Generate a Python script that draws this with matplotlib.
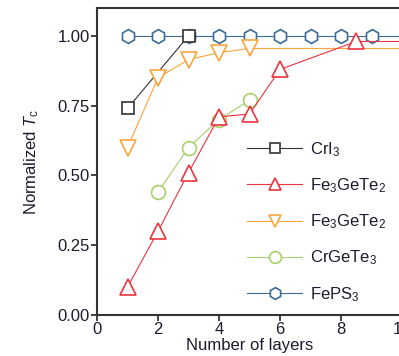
import numpy as np
import matplotlib
matplotlib.use("Agg")
import matplotlib.pyplot as plt

plt.rcParams['font.family'] = ['Liberation Sans', 'DejaVu Sans']
plt.rcParams['mathtext.fontset'] = 'custom'
plt.rcParams['mathtext.rm'] = 'Liberation Sans'
plt.rcParams['mathtext.it'] = 'Liberation Sans:italic'

# data (points beyond x=10 only carry the line to the edge)
cri3_x = [1, 3]
cri3_y = [0.74, 1.0]

fgt_red_x = [1, 2, 3, 4, 5, 6, 8.5, 12]
fgt_red_y = [0.10, 0.30, 0.51, 0.71, 0.72, 0.88, 0.98, 0.98]

fgt_orange_x = [1, 2, 3, 4, 5, 12]
fgt_orange_y = [0.60, 0.85, 0.915, 0.94, 0.955, 0.955]

cgt_x = [2, 3, 4, 5]
cgt_y = [0.44, 0.60, 0.70, 0.77]

feps3_x = [1, 2, 3, 4, 5, 6, 7, 8, 9, 12]
feps3_y = [1.0, 1.0, 1.0, 1.0, 1.0, 1.0, 1.0, 1.0, 1.0, 1.0]

xticks = [0, 2, 4, 6, 8, 10]
yticks = [0.0, 0.25, 0.5, 0.75, 1.0]

fig = plt.figure(figsize=(3.99, 3.56), dpi=100)
ax = fig.add_axes([97/399, 1-315/356, 305/399, 307/356])

txt = '#1c1c2c'
lw = 0.8
ax.plot(feps3_x, feps3_y, '-h', color='#3b6d98', mfc='white', ms=10, mew=1.2, lw=lw, label='FePS$_3$', zorder=2)
ax.plot(cri3_x, cri3_y, '-s', color='#333333', mfc='white', ms=9, mew=1.2, lw=lw, label='CrI$_3$', zorder=3)
ax.plot(fgt_orange_x, fgt_orange_y, '-v', color='#fba43c', mfc='white', ms=11, mew=1.2, lw=lw, label='Fe$_3$GeTe$_2$', zorder=3)
ax.plot(cgt_x, cgt_y, '-o', color='#a7d06c', mfc='white', ms=10, mew=1.2, lw=lw, label='CrGeTe$_3$', zorder=3)
ax.plot(fgt_red_x, fgt_red_y, '-^', color='#ec3340', mfc='white', ms=11, mew=1.2, lw=lw, label='Fe$_3$GeTe$_2$', zorder=4)

ax.set_xlim(0, 10)
ax.set_ylim(0, 1.1)
ax.set_xticks(xticks)
ax.set_yticks(yticks)
ax.set_yticklabels(['0.00', '0.25', '0.50', '0.75', '1.00'])
ax.tick_params(direction='out', length=4, width=1.2, labelsize=12, colors='#222222', pad=1)
for lab in ax.get_xticklabels() + ax.get_yticklabels():
    lab.set_color(txt)
for s in ax.spines.values():
    s.set_linewidth(1.5)
    s.set_color('#333333')

ax.set_xlabel('Number of layers', fontsize=12, color=txt, labelpad=1)
ax.set_ylabel('Normalized $\\mathit{T}_\\mathrm{c}$', fontsize=12, color=txt, labelpad=12)

h, l = ax.get_legend_handles_labels()
order = [1, 4, 2, 3, 0]
leg = ax.legend([h[i] for i in order], [l[i] for i in order],
                loc='upper left', bbox_to_anchor=(247/399, 1-140/356),
                bbox_transform=fig.transFigure, frameon=False, fontsize=12,
                handlelength=3.3, handletextpad=0.5, labelspacing=1.05,
                markerscale=0.85, borderpad=0, borderaxespad=0)
for t in leg.get_texts():
    t.set_color(txt)

fig.savefig('out.png', dpi=100)
